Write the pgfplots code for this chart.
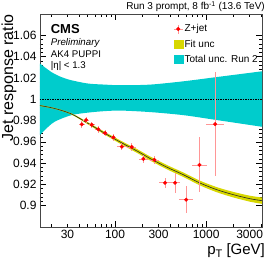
\documentclass[border=0pt]{standalone}
\usepackage{pgfplots}
\pgfplotsset{compat=1.18}
\usepgfplotslibrary{fillbetween}
\usepackage{fontspec}
\setmainfont{Liberation Sans}
\definecolor{bandcyan}{RGB}{0,204,204}
\definecolor{fityellow}{RGB}{215,215,0}
\definecolor{errpink}{RGB}{255,150,150}
\definecolor{axgray}{RGB}{70,70,70}
\pgfplotstableread{
x y xm xp ey
43.1 0.9764 3.16 3.40 0.003
48.0 0.9804 3.51 3.79 0.003
55.4 0.9760 4.06 4.38 0.003
65.5 0.9717 4.80 5.17 0.003
77.6 0.9682 5.68 6.13 0.003
95.8 0.9642 7.01 7.57 0.003
118.5 0.9554 12.70 14.22 0.0035
152.6 0.9551 16.35 18.31 0.0035
204.6 0.9439 21.92 24.55 0.0035
270 0.9430 28.93 32.4 0.0035
354 0.9215 49.9 58.1 0.0045
456 0.9215 54.2 61.6 0.0093
603 0.9056 94.1 111.6 0.0125
844 0.9383 145.9 176.4 0.0259
1256 0.9766 248.0 309.0 0.049
}\zjet
\begin{document}
\begin{tikzpicture}
\begin{axis}[
  at={(0,0)}, anchor=south west,
  scale only axis, width=222pt, height=213pt,
  xmode=log, xmin=15, xmax=4100, ymin=0.88, ymax=1.08,
  axis line style={axgray, line width=0.6pt},
  tick style={black, line width=0.5pt},
  major tick length=6pt, minor tick length=3pt,
  xtick={100,1000}, xticklabels={100,1000},
  extra x ticks={30,300,3000}, extra x tick labels={30,300,3000},
  extra x tick style={major tick length=3pt},
  minor xtick={20,40,50,60,70,80,90,200,400,500,600,700,800,900,2000,4000},
  ytick={0.9,0.92,0.94,0.96,0.98,1,1.02,1.04,1.06},
  yticklabels={0.9,0.92,0.94,0.96,0.98,1,1.02,1.04,1.06},
  minor y tick num=4,
  tick label style={font=\fontsize{12}{14}\selectfont},
  ylabel={Jet response ratio},
  ylabel style={at={(axis description cs:-0.14,1.0)}, anchor=east, inner sep=0pt, font=\fontsize{16}{18}\selectfont},
  xlabel={p\raisebox{-0.35ex}{\fontsize{11}{11}\selectfont T} [GeV]},
  xlabel style={at={(axis description cs:1.014,-0.13)}, anchor=base east, inner sep=0pt, font=\fontsize{15}{17}\selectfont},
  legend style={at={(rel axis cs:0.6,0.958)}, anchor=north west, draw=none, fill=none,
    font=\fontsize{10}{12}\selectfont, row sep=3.5pt, inner sep=0pt,
    nodes={inner sep=1.5pt}},
  legend cell align=left,
  clip=true,
]
% total uncertainty band (Run 2)
\addplot[name path=bup, draw=none, smooth, forget plot] coordinates {
(15,1.0334) (20,1.0255) (25.7,1.0208) (33.1,1.0178) (50.5,1.0147) (77.1,1.0137)
(116.4,1.0131) (242.5,1.0137) (564,1.0168) (1311,1.0208) (4100,1.0262)};
\addplot[name path=blo, draw=none, smooth, forget plot] coordinates {
(15,0.9664) (16.9,0.971) (21.7,0.9788) (33.1,0.985) (50.5,0.9874) (77.1,0.9888)
(116.4,0.9893) (242.5,0.9879) (564,0.985) (1311,0.9804) (4100,0.9741)};
\addplot[fill=bandcyan, draw=none, forget plot] fill between[of=bup and blo];
% unity line
\addplot[black, line width=0.4pt, dash pattern=on 1.5pt off 1pt, forget plot] coordinates {(15,1) (4100,1)};
% fit uncertainty band
\addplot[name path=fup, draw=none, smooth, forget plot] coordinates {
(15,0.9945) (21.7,0.9918) (33.1,0.9868) (50.5,0.9783) (77.1,0.9693) (117,0.9608)
(179,0.9526) (242.5,0.9462) (370,0.9382) (564,0.9311) (859,0.9234) (1311,0.9174)
(1997,0.9129) (3045,0.9093) (4120,0.9077)};
\addplot[name path=flo, draw=none, smooth, forget plot] coordinates {
(15,0.9935) (21.7,0.9908) (33.1,0.9856) (50.5,0.9763) (77.1,0.9667) (117,0.9576)
(179,0.9490) (242.5,0.9424) (370,0.9342) (564,0.9269) (859,0.9190) (1311,0.9126)
(1997,0.9077) (3045,0.9037) (4120,0.9017)};
\addplot[fill=fityellow, draw=none, forget plot] fill between[of=fup and flo];
% fit central line
\addplot[black!85, line width=0.6pt, smooth, forget plot] coordinates {
(15,0.9940) (21.7,0.9913) (33.1,0.9862) (50.5,0.9773) (77.1,0.9680) (117,0.9592)
(179,0.9508) (242.5,0.9443) (370,0.9362) (564,0.9290) (859,0.9212) (1311,0.9150)
(1997,0.9103) (3045,0.9065) (4120,0.9047)};
% Z+jet data
\addplot[only marks, mark=*, mark size=1.8pt, color=red, forget plot,
  error bars/.cd, x dir=both, x explicit, y dir=both, y explicit,
  error bar style={errpink, line width=0.7pt}, error mark=none]
  table[x=x, y=y, x error plus=xp, x error minus=xm, y error=ey] {\zjet};
% legend entries
\addlegendimage{legend image code/.code={
  \draw[errpink, line width=0.7pt] (0pt,0pt)--(9pt,0pt) (4.5pt,-4.5pt)--(4.5pt,4.5pt);
  \fill[red] (4.5pt,0pt) circle (1.8pt);}}
\addlegendentry{Z+jet}
\addlegendimage{legend image code/.code={\fill[fityellow] (0pt,-4pt) rectangle (9pt,4pt);}}
\addlegendentry{Fit unc}
\addlegendimage{legend image code/.code={\fill[bandcyan] (0pt,-4pt) rectangle (9pt,4pt);}}
\addlegendentry{Total unc. Run 2}
% texts
\node[anchor=base west, inner sep=0pt, font=\fontsize{13}{15}\selectfont\bfseries] at (rel axis cs:0.048,0.909) {CMS};
\node[anchor=base west, inner sep=0pt, font=\fontsize{9.7}{12}\selectfont\itshape] at (rel axis cs:0.048,0.85) {Preliminary};
\node[anchor=base west, inner sep=0pt, font=\fontsize{9.7}{12}\selectfont] at (rel axis cs:0.048,0.797) {AK4 PUPPI};
\node[anchor=base west, inner sep=0pt, font=\fontsize{9.7}{12}\selectfont] at (rel axis cs:0.048,0.745) {|η| < 1.3};
\end{axis}
\node[anchor=base east, inner sep=0pt, font=\fontsize{10}{12}\selectfont] at (225pt,217pt) {Run 3 prompt, 8 fb\textsuperscript{-1} (13.6 TeV)};
\pgfresetboundingbox
\path[use as bounding box] (-40pt,-34pt) rectangle (226pt,227pt);
\end{tikzpicture}
\end{document}
